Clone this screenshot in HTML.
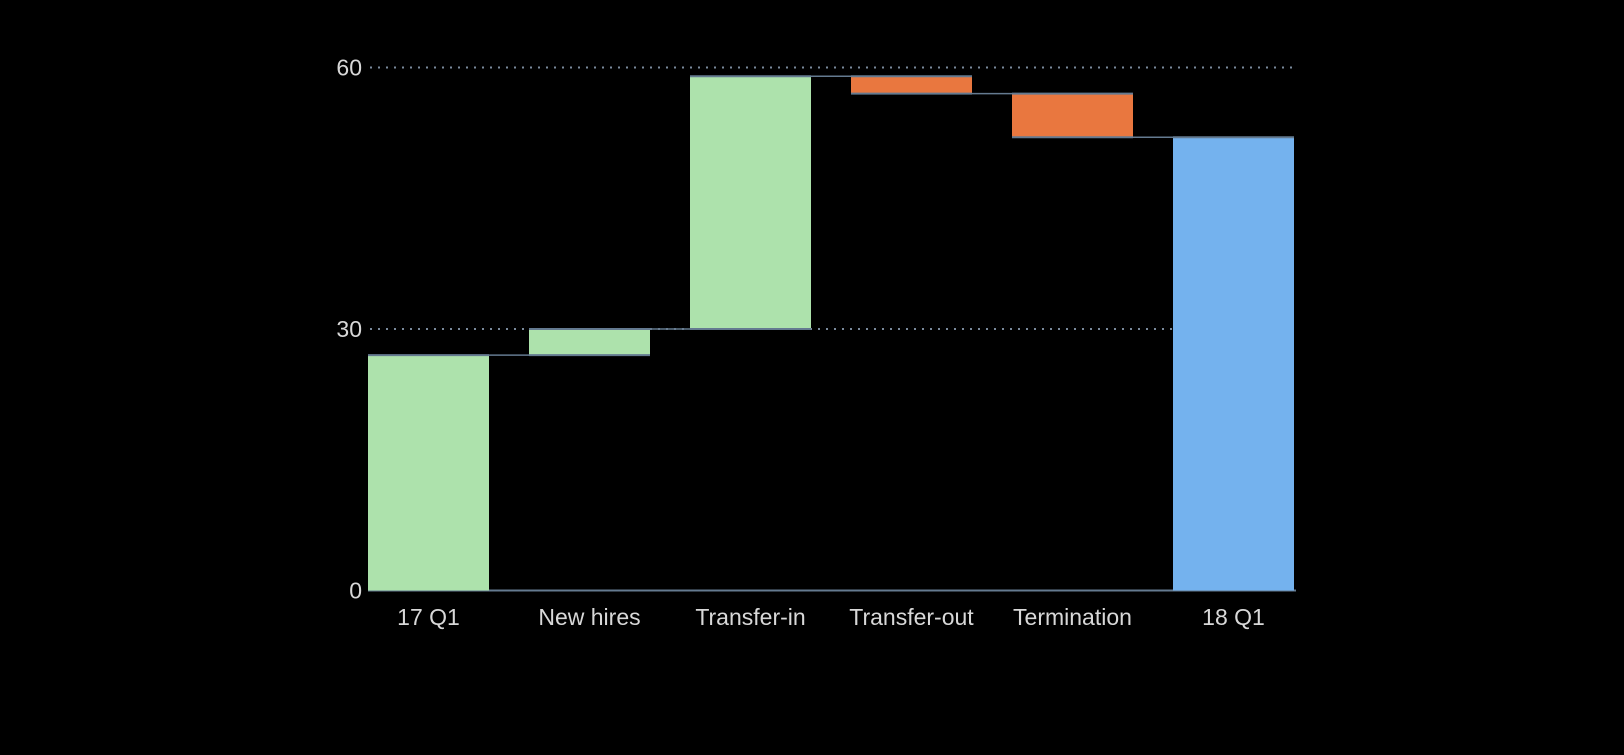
<!DOCTYPE html>
<html><head><meta charset="utf-8"><style>
html,body{margin:0;background:#000;}
svg text{font-family:"Liberation Sans",sans-serif;fill:#d8d8d8;font-size:23px;}
</style></head><body>
<svg id="chart" width="1624" height="750" viewBox="0 0 1624 750" xmlns="http://www.w3.org/2000/svg">
<rect width="1624" height="750" fill="#000"/>
<g id="grid"></g><g id="bars"></g><g id="labels"></g>
</svg>
<script>
const categories = ["17 Q1","New hires","Transfer-in","Transfer-out","Termination","18 Q1"];
const deltas = [27, 3, 29, -2, -5, 52];
const kinds = ["total","delta","delta","delta","delta","total"];
const yTicks = [0, 30, 60];

const NS="http://www.w3.org/2000/svg";
const x0=368, step=161, barW=121, yZero=590.5, pxPerUnit=(590.5-67.5)/60;
const xScale=i=>x0+i*step;
const yScale=v=>yZero-v*pxPerUnit;
function mk(tag,attrs,parent){const e=document.createElementNS(NS,tag);for(const k in attrs)e.setAttribute(k,attrs[k]);parent.appendChild(e);return e;}
const grid=document.getElementById('grid'),bars=document.getElementById('bars'),labels=document.getElementById('labels');
yTicks.forEach(t=>{
  const y=yScale(t);
  if(t!==0){const l=mk('line',{x1:370,x2:1292,y1:y,y2:y,stroke:'#7a8a9c','stroke-width':2,'stroke-dasharray':'2 6'},grid);
    
    }
  const tx=mk('text',{x:362,y:y+8,'text-anchor':'end'},labels);tx.textContent=t;
  
  
});
const base=mk('line',{x1:368,x2:1296,y1:yZero,y2:yZero,stroke:'#647a90','stroke-width':2},grid);


let run=0, prevEnd=null;
categories.forEach((c,i)=>{
  let lo,hi,color;
  if(kinds[i]==='total'){lo=0;hi=deltas[i];run=hi;color=i===categories.length-1?'#74b2ee':'#ade2ac';}
  else{const s=run;run+=deltas[i];lo=Math.min(s,run);hi=Math.max(s,run);color=deltas[i]>=0?'#ade2ac':'#e9773f';}
  const x=xScale(i);
  const r=mk('rect',{x:x,y:yScale(hi),width:barW,height:yScale(lo)-yScale(hi),fill:color},bars);
  
  
  [hi,lo].forEach(v=>{if(v===0)return;const e=mk('line',{x1:x,x2:x+barW,y1:yScale(v),y2:yScale(v),stroke:'#647a90','stroke-width':2},bars);
    
    });
  if(i>0){const cy=yScale(prevEnd);const cn=mk('line',{x1:x-step+barW,x2:x,y1:cy,y2:cy,stroke:'#647a90','stroke-width':1.5},bars);
    
    }
  prevEnd=run;
  const t=mk('text',{x:x+barW/2,y:625,'text-anchor':'middle'},labels);t.textContent=c;
  
  
});
</script>
</body></html>
